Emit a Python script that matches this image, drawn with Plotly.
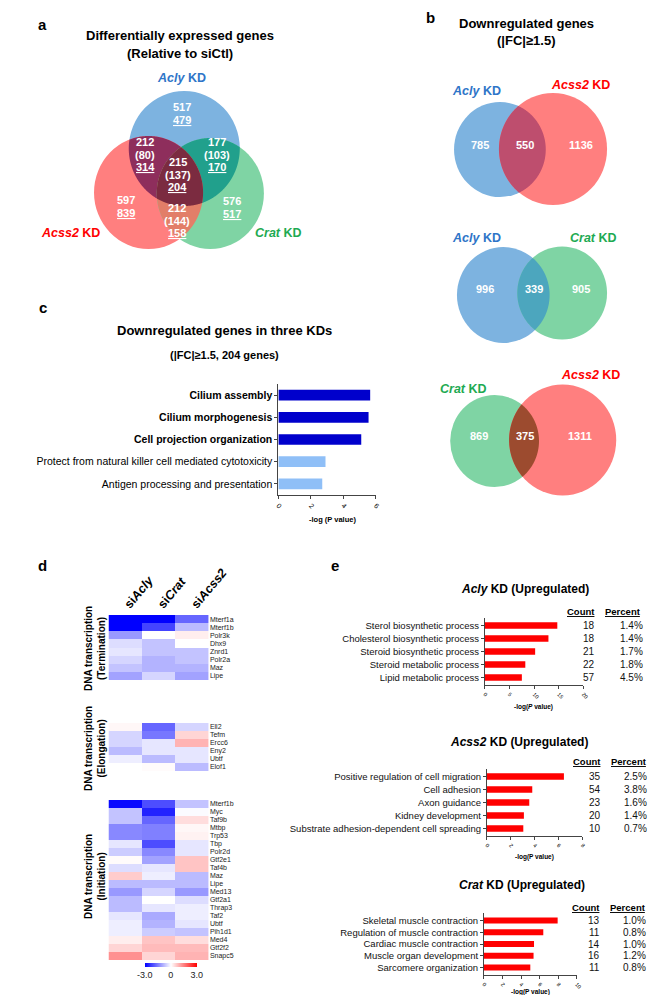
import numpy as np
import plotly.graph_objects as go

W, H = 662, 995
FONT = "Liberation Sans, Arial, sans-serif"

# ---------------- data ----------------
# panel a : three-way Venn (total / shared-with-others-in-parentheses / downregulated underlined)
venn_a_regions = ["Acly only", "Acly+Acss2", "Acly+Crat", "All three", "Acss2 only", "Crat only", "Acss2+Crat"]
venn_a_total = [517, 212, 177, 215, 597, 576, 212]
venn_a_paren = [None, 80, 103, 137, None, None, 144]
venn_a_down = [479, 314, 170, 204, 839, 517, 158]

# panel b : pairwise Venns of downregulated genes
venn_b_left = ["Acly", "Acly", "Crat"]
venn_b_right = ["Acss2", "Crat", "Acss2"]
venn_b_left_only = [785, 996, 869]
venn_b_shared = [550, 339, 375]
venn_b_right_only = [1136, 905, 1311]

# panel c : GO terms
c_terms = ["Cilium assembly", "Cilium morphogenesis", "Cell projection organization",
           "Protect from natural killer cell mediated cytotoxicity",
           "Antigen processing and presentation"]
c_logp = [5.65, 5.55, 5.1, 2.9, 2.7]
c_bold = [True, True, True, False, False]

# panel d : heatmaps
hm_columns = ["siAcly", "siCrat", "siAcss2"]
term_genes = ["Mterf1a", "Mterf1b", "Polr3k", "Dhx9", "Znrd1", "Polr2a", "Maz", "Lipe"]
term_values = [[-3.0, -3.0, -1.8], [-3.0, -2.2, -0.8], [-1.2, 0.0, 0.2], [-0.4, -0.7, 0.0],
               [-0.3, -0.7, -0.7], [-0.5, -0.9, -0.7], [-0.7, -0.9, -0.9], [-1.1, -0.5, -1.1]]
elong_genes = ["Ell2", "Tefm", "Ercc6", "Eny2", "Ubtf", "Elof1"]
elong_values = [[0.1, -1.8, -0.5], [-0.5, -1.6, 0.5], [-0.5, -0.3, 0.9],
                [-0.8, -0.3, -0.3], [-0.2, -0.8, -0.3], [0.0, 0.05, -0.8]]
init_genes = ["Mterf1b", "Myc", "Taf9b", "Mtbp", "Trp53", "Tbp", "Polr2d", "Gtf2e1", "Taf4b", "Maz",
              "Lipe", "Med13", "Gtf2a1", "Thrap3", "Taf2", "Ubtf", "Pih1d1", "Med4", "Gtf2f2", "Snapc5"]
init_values = [[-2.9, -2.1, -0.7], [-0.7, -2.6, -0.05], [-0.7, -1.8, 0.4], [-1.4, -1.5, 0.1],
               [-1.4, -1.5, 0.15], [-0.3, -2.1, -0.3], [-0.6, -1.4, -0.3], [0.05, -1.1, 0.7],
               [-0.4, -0.3, 0.7], [0.6, -0.2, -0.8], [-0.8, -0.8, -0.8], [-1.2, -0.5, -1.2],
               [-0.8, 0.0, -0.4], [-0.8, -0.3, -0.2], [-0.3, -1.0, -0.2], [-0.2, -0.9, -0.3],
               [-0.2, -0.6, -0.7], [0.2, 0.7, 0.4], [0.5, 0.8, 0.8], [1.3, 0.5, 0.9]]

# panel e : upregulated GO terms
e_acly_terms = ["Sterol biosynthetic process", "Cholesterol biosynthetic process",
                "Steroid biosynthetic process", "Steroid metabolic process", "Lipid metabolic process"]
e_acly_logp = [14.7, 12.9, 10.2, 8.2, 7.5]
e_acly_count = [18, 18, 21, 22, 57]
e_acly_pct = ["1.4%", "1.4%", "1.7%", "1.8%", "4.5%"]

e_acss2_terms = ["Positive regulation of cell migration", "Cell adhesion", "Axon guidance",
                 "Kidney development", "Substrate adhesion-dependent cell spreading"]
e_acss2_logp = [6.45, 3.8, 3.55, 3.1, 3.05]
e_acss2_count = [35, 54, 23, 20, 10]
e_acss2_pct = ["2.5%", "3.8%", "1.6%", "1.4%", "0.7%"]

e_crat_terms = ["Skeletal muscle contraction", "Regulation of muscle contraction",
                "Cardiac muscle contraction", "Muscle organ development", "Sarcomere organization"]
e_crat_logp = [7.95, 6.4, 5.4, 5.35, 5.0]
e_crat_count = [13, 11, 14, 16, 11]
e_crat_pct = ["1.0%", "0.8%", "1.0%", "1.2%", "0.8%"]

# ---------------- helpers ----------------
def xd(px):
    return px / W

def yd(py):
    return 1 - py / H

BLUE_F, RED_F, GREEN_F = "#7DB3E0", "#FF7F7F", "#7FD4A4"
BLUE_T, RED_T, GREEN_T = "#2E75C8", "#FF0000", "#1EAA52"
LBL_COL = {"Acly": BLUE_T, "Acss2": RED_T, "Crat": GREEN_T}
FILL_COL = {"Acly": BLUE_F, "Acss2": RED_F, "Crat": GREEN_F}


def region_path(circles, n=900):
    pts = []
    for i, (cx, cy, r) in enumerate(circles):
        t = np.linspace(0, 2 * np.pi, n, endpoint=False)
        px = cx + r * np.cos(t)
        py = cy + r * np.sin(t)
        mask = np.ones(n, bool)
        for j, (cx2, cy2, r2) in enumerate(circles):
            if j != i:
                mask &= (px - cx2) ** 2 + (py - cy2) ** 2 <= r2 ** 2
        pts.extend(zip(px[mask], py[mask]))
    pts = np.array(pts)
    c = pts.mean(axis=0)
    ang = np.arctan2(pts[:, 1] - c[1], pts[:, 0] - c[0])
    pts = pts[np.argsort(ang)]
    return "M " + " L ".join(f"{x:.2f},{y:.2f}" for x, y in pts) + " Z"


shapes = []
annotations = []


def circle(cx, cy, r, color):
    shapes.append(dict(type="circle", xref="x", yref="y", x0=cx - r, x1=cx + r, y0=cy - r, y1=cy + r,
                       fillcolor=color, line=dict(width=0), layer="above"))


def region(circles, color):
    shapes.append(dict(type="path", xref="x", yref="y", path=region_path(circles),
                       fillcolor=color, line=dict(width=0), layer="above"))


def text(x, y, s, size=11, color="black", xanchor="center", yanchor="middle", angle=0, xref="x", yref="y"):
    annotations.append(dict(x=x, y=y, xref=xref, yref=yref, text=s, showarrow=False,
                            font=dict(size=size, color=color, family=FONT),
                            xanchor=xanchor, yanchor=yanchor, textangle=angle))


# ---------------- panel a ----------------
cA = (179.5, 140.5, 57.5)
cR = (142.5, 184.5, 56.5)
cG = (206.5, 185.5, 55.5)
circle(*cA, BLUE_F)
circle(*cR, RED_F)
circle(*cG, GREEN_F)
region([cA, cR], "#8E2E5C")
region([cA, cG], "#21A08C")
region([cR, cG], "#E27E68")
region([cA, cR, cG], "#7B2B40")

text(33, 16, "<b>a</b>", 15)
text(175, 27, "<b>Differentially expressed genes</b>", 13)
text(175, 45, "<b>(Relative to siCtl)</b>", 13)
text(177, 70, "<b><i>Acly</i> KD</b>", 12.5, BLUE_T)
text(62, 225, "<b><i>Acss2</i> KD</b>", 12.5, RED_T)
text(277, 225, "<b><i>Crat</i> KD</b>", 12.5, GREEN_T)

venn_a_xy = [(177, 99), (139, 134), (213, 134), (173, 154), (119, 192), (229, 193), (172, 200)]
for (x, y0), tot, par, dn in zip(venn_a_xy, venn_a_total, venn_a_paren, venn_a_down):
    lines = [f"<b>{tot}</b>"]
    if par is not None:
        lines.append(f"<b>({par})</b>")
    lines.append(f"<b><u>{dn}</u></b>")
    step = 12.5
    for k, s in enumerate(lines):
        text(x, y0 + k * step, s, 11, "white")

# ---------------- panel b ----------------
text(435, 9, "<b>b</b>", 15)
text(534, 15, "<b>Downregulated genes</b>", 13)
text(534, 32, "<b>(|FC|≥1.5)</b>", 13)

b_circles = [((506.5, 141.5, 47.5), (561.5, 141, 56)),
             ((510, 287, 48), (571, 285, 46.5)),
             ((501, 433, 46), (571.5, 432, 55.5))]
b_overlap_col = ["#BE4E6E", "#4CA6BE", "#9C4B2F"]
b_label_xy = [((482, 83), (590, 77)), ((482, 230), (603, 230)), ((469, 381), (600, 367))]
b_num_x = [(486, 532, 591), (491, 542, 591), (485, 533, 589)]
b_num_y = [137, 281, 428]
for i in range(3):
    cl, cr = b_circles[i]
    circle(*cl, FILL_COL[venn_b_left[i]])
    circle(*cr, FILL_COL[venn_b_right[i]])
    region([cl, cr], b_overlap_col[i])
    (lx, ly), (rx, ry) = b_label_xy[i]
    text(lx, ly, f"<b><i>{venn_b_left[i]}</i> KD</b>", 12.5, LBL_COL[venn_b_left[i]])
    text(rx, ry, f"<b><i>{venn_b_right[i]}</i> KD</b>", 12.5, LBL_COL[venn_b_right[i]])
    for x, v in zip(b_num_x[i], (venn_b_left_only[i], venn_b_shared[i], venn_b_right_only[i])):
        text(x, b_num_y[i], f"<b>{v}</b>", 11, "white")

# ---------------- panel c ----------------
text(33, 299, "<b>c</b>", 15)
text(221, 322, "<b>Downregulated genes in three KDs</b>", 13)
text(221, 347, "<b>(|FC|≥1.5, 204 genes)</b>", 11)
text(333, 511, "<b>-log (P value)</b>", 7.5)

# ---------------- panel d ----------------
text(33, 557, "<b>d</b>", 15)
text(87, 640, "<b>DNA transcription<br>(Termination)</b>", 10, angle=-90)
text(87, 740, "<b>DNA transcription<br>(Elongation)</b>", 10, angle=-90)
text(87, 868, "<b>DNA transcription<br>(Initiation)</b>", 10, angle=-90)

# ---------------- panel e ----------------
text(336, 557, "<b>e</b>", 15)
text(533, 581, "<b><i>Acly</i> KD (Upregulated)</b>", 12)
text(526, 734, "<b><i>Acss2</i> KD (Upregulated)</b>", 12)
text(529, 877, "<b><i>Crat</i> KD (Upregulated)</b>", 12)
text(541, 699, "<b>-log(<i>P</i> value)</b>", 6.5)
text(542, 849, "<b>-log(P value)</b>", 6.5)
text(538, 984, "<b>-log(P value)</b>", 6.5)

e_sets = [
    (e_acly_terms, e_acly_logp, e_acly_count, e_acly_pct, "6", 603, 607, 657, 634),
    (e_acss2_terms, e_acss2_logp, e_acss2_count, e_acss2_pct, "7", 753, 613, 661, 640),
    (e_crat_terms, e_crat_logp, e_crat_count, e_crat_pct, "8", 899, 612, 660, 639),
]
for terms, lp, cnt, pct, ax, hy, cx_r, px_r, pcx in e_sets:
    text(cx_r, hy, "<b><u>Count</u></b>", 9.5, xanchor="right")
    text(pcx, hy, "<b><u>Percent</u></b>", 9.5)
    for t, c_, p_ in zip(terms, cnt, pct):
        text(xd(cx_r), t, str(c_), 10, "#111", xanchor="right", xref="paper", yref="y" + ax)
        text(xd(px_r), t, p_, 10, "#111", xanchor="right", xref="paper", yref="y" + ax)

# ---------------- traces ----------------
fig = go.Figure()
fig.add_trace(go.Scatter(x=[], y=[], xaxis="x", yaxis="y", showlegend=False))

fig.add_trace(go.Bar(x=c_logp, y=c_terms, orientation="h", width=0.48,
                     marker=dict(color=["#0000CC" if b else "#8FBFF7" for b in c_bold], line=dict(width=0)),
                     xaxis="x2", yaxis="y2", showlegend=False))

cs = [[0, "#0000FF"], [0.5, "#FFFFFF"], [1, "#FF0000"]]
for genes, vals, ax, show in [(term_genes, term_values, "3", False),
                              (elong_genes, elong_values, "4", False),
                              (init_genes, init_values, "5", True)]:
    fig.add_trace(go.Heatmap(z=vals, x=hm_columns, y=genes, colorscale=cs, zmin=-3, zmax=3,
                             showscale=show, xaxis="x" + ax, yaxis="y" + ax,
                             colorbar=dict(orientation="h", x=xd(165.5), xanchor="center",
                                           y=yd(962), yanchor="middle", len=75 / W, lenmode="fraction",
                                           thickness=4, thicknessmode="pixels", outlinewidth=0,
                                           tickvals=[-3, 0, 3], ticktext=["-3.0", "0", "3.0"],
                                           ticks="", tickfont=dict(size=9, color="#222", family=FONT))))

for terms, lp, ax in [(e_acly_terms, e_acly_logp, "6"), (e_acss2_terms, e_acss2_logp, "7"),
                      (e_crat_terms, e_crat_logp, "8")]:
    fig.add_trace(go.Bar(x=lp, y=terms, orientation="h", width=0.5,
                         marker=dict(color="#FF0000", line=dict(width=0)),
                         xaxis="x" + ax, yaxis="y" + ax, showlegend=False))

# ---------------- layout ----------------
axis_common = dict(showgrid=False, zeroline=False, showline=True, linecolor="#444", linewidth=1,
                   ticks="outside", ticklen=3, tickcolor="#444", tickwidth=1)

layout = dict(
    width=W, height=H, margin=dict(l=0, r=0, t=0, b=0),
    paper_bgcolor="white", plot_bgcolor="rgba(0,0,0,0)",
    font=dict(family=FONT, color="black"),
    showlegend=False, shapes=shapes, annotations=annotations,
    xaxis=dict(domain=[0, 1], range=[0, W], visible=False, fixedrange=True),
    yaxis=dict(domain=[0, 1], range=[H, 0], visible=False, fixedrange=True),
    xaxis2=dict(domain=[xd(277), xd(378)], anchor="y2", range=[0, 6], tickvals=[0, 2, 4, 6],
                tickangle=45, tickfont=dict(size=7), **axis_common),
    yaxis2=dict(domain=[yd(487), yd(376)], anchor="x2", autorange="reversed",
                tickmode="array", tickvals=c_terms,
                ticktext=[f"<b>{t}</b>" if b else t for t, b in zip(c_terms, c_bold)],
                tickfont=dict(size=10.5, color="black"), **axis_common),
)

hm_ticktext = ["<b>si<i>Acly</i></b>", "<b>si<i>Crat</i></b>", "<b>si<i>Acss2</i></b>"]
hm_dom = {"3": (607, 672, term_genes), "4": (715, 763, elong_genes), "5": (792, 952, init_genes)}
for ax, (top, bot, genes) in hm_dom.items():
    layout["xaxis" + ax] = dict(domain=[xd(101), xd(205)], anchor="y" + ax, side="top",
                                showticklabels=(ax == "3"), tickmode="array", tickvals=hm_columns,
                                ticktext=hm_ticktext, tickangle=-50, tickfont=dict(size=12.5),
                                ticks="", showgrid=False, zeroline=False, showline=False)
    layout["yaxis" + ax] = dict(domain=[yd(bot), yd(top)], anchor="x" + ax, side="right",
                                autorange="reversed", tickmode="array", tickvals=genes, ticktext=genes,
                                tickfont=dict(size=7, color="#222"), ticks="",
                                showgrid=False, zeroline=False, showline=False)

e_geom = {"6": ((491, 593), (610, 677), [0, 20], [0, 5, 10, 15, 20]),
          "7": ((493, 592), (761, 828), [0, 8], [0, 2, 4, 6, 8]),
          "8": ((490, 586), (905, 967), [0, 10], [0, 2, 4, 6, 8, 10])}
for ax, ((x0, x1), (y0, y1), rng, tv) in e_geom.items():
    layout["xaxis" + ax] = dict(domain=[xd(x0), xd(x1)], anchor="y" + ax, range=rng, tickvals=tv,
                                tickangle=45, tickfont=dict(size=5.5), **axis_common)
    layout["yaxis" + ax] = dict(domain=[yd(y1), yd(y0)], anchor="x" + ax, autorange="reversed",
                                tickfont=dict(size=9.5, color="#111"), **axis_common)

fig.update_layout(**layout)
fig.write_html("out.html")
